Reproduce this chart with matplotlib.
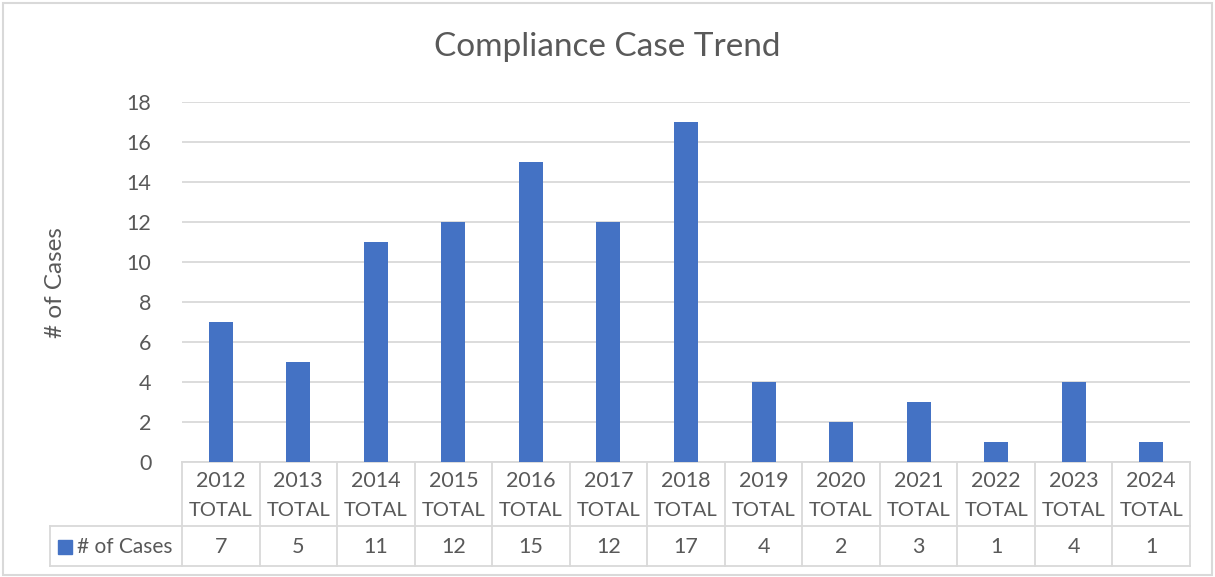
import matplotlib
matplotlib.use("Agg")
import matplotlib.pyplot as plt
from matplotlib.patches import Rectangle
from matplotlib.lines import Line2D
import matplotlib.transforms as mtransforms

plt.rcParams['font.family'] = ['Lato', 'DejaVu Sans']

years = ["2012", "2013", "2014", "2015", "2016", "2017", "2018",
         "2019", "2020", "2021", "2022", "2023", "2024"]
cases = [7, 5, 11, 12, 15, 12, 17, 4, 2, 3, 1, 4, 1]
series_name = "# of Cases"
title = "Compliance Case Trend"
yticks = [0, 2, 4, 6, 8, 10, 12, 14, 16, 18]

W, H = 1215, 577
fig = plt.figure(figsize=(W / 100, H / 100), dpi=100)
TXT = "#595959"
GRID = "#d9d9d9"
BAR = "#4472C4"
FS = 15.5

# plot area in pixels
x0, x1, ytop, ybot = 182, 1190, 102, 462
ax = fig.add_axes([x0 / W, 1 - ybot / H, (x1 - x0) / W, (ybot - ytop) / H])
n = len(years)
xs = list(range(n))
ax.bar(xs, cases, width=0.31, color=BAR, zorder=3)
ax.set_xlim(-0.5, n - 0.5)
ax.set_ylim(0, 18)
ax.set_yticks(yticks)
ax.yaxis.grid(True, color=GRID, linewidth=1.3, zorder=0)
ax.tick_params(axis='y', length=0, pad=22, labelsize=FS, labelcolor=TXT)
ax.set_xticks([])
for s in ['top', 'right', 'left']:
    ax.spines[s].set_visible(False)
ax.spines['bottom'].set_color(GRID)
ax.spines['bottom'].set_linewidth(1.3)
fig.text(56 / W, 1 - 283 / H, series_name, rotation=90, ha='center', va='center',
         fontsize=17.5, color=TXT)

fig.text(0.5, 1 - 47 / H, title, ha='center', va='center', fontsize=24, color=TXT)

# data table
ah = ybot - ytop
r1 = -(526 - ybot) / ah
r2 = -(566 - ybot) / ah
blend = mtransforms.blended_transform_factory(ax.transData, ax.transAxes)
lkw = dict(color=GRID, linewidth=1.3, clip_on=False)
for i in range(n + 1):
    ax.add_line(Line2D([i - 0.5, i - 0.5], [0, r2], transform=blend, **lkw))
legx = -(x0 - 50) / (x1 - x0)
for yy in (r1, r2):
    ax.add_line(Line2D([legx, 1], [yy, yy], transform=ax.transAxes, **lkw))
ax.add_line(Line2D([legx, legx], [r1, r2], transform=ax.transAxes, **lkw))
for i, (yr, v) in enumerate(zip(years, cases)):
    ax.text(i, -(481 - ybot) / ah, yr, transform=blend, ha='center', va='center',
            fontsize=FS, color=TXT)
    ax.text(i, -(511 - ybot) / ah, "TOTAL", transform=blend, ha='center', va='center',
            fontsize=14.5, color=TXT)
    ax.text(i, -(547 - ybot) / ah, str(v), transform=blend, ha='center', va='center',
            fontsize=FS, color=TXT)
# legend key
fig.text(77 / W, 1 - 547 / H, series_name, ha='left', va='center', fontsize=15, color=TXT)
fig.patches.append(Rectangle((58 / W, 1 - 554 / H), 14 / W, 14 / H, transform=fig.transFigure,
                             color=BAR, figure=fig))

# outer border
fig.patches.append(Rectangle((3 / W, 2 / H), (W - 6) / W, (H - 5) / H, transform=fig.transFigure,
                             fill=False, edgecolor=GRID, linewidth=1.5, figure=fig))
fig.savefig("out.png", dpi=100)
